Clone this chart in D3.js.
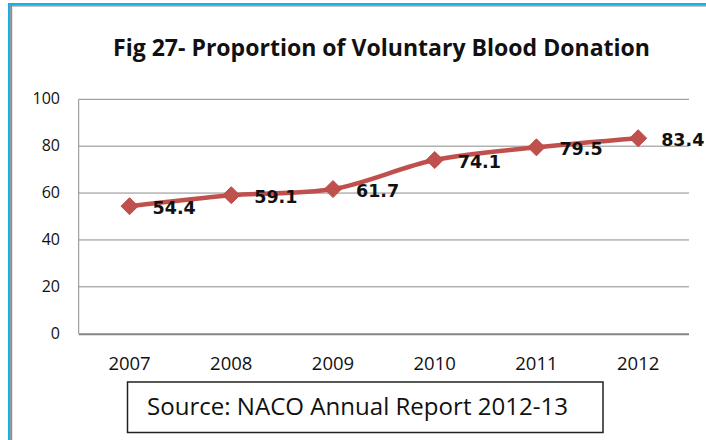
<!DOCTYPE html>
<html>
<head>
<meta charset="utf-8">
<script src="https://cdn.jsdelivr.net/npm/d3@7"></script>
<style>
  html, body { margin: 0; padding: 0; background: #fff; }
  svg { display: block; }
</style>
</head>
<body>
<svg id="chart" width="706" height="440"></svg>
<script>
const categories = ["2007", "2008", "2009", "2010", "2011", "2012"];
const values = [54.4, 59.1, 61.7, 74.1, 79.5, 83.4];
const yTicks = [0, 20, 40, 60, 80, 100];
const titleText = "Fig 27- Proportion of Voluntary Blood Donation";
const sourceText = "Source: NACO Annual Report 2012-13";

const svg = d3.select("#chart");
const W = 706, H = 440;
const plot = { left: 78.7, right: 689, top: 99.3, bottom: 333.7 };

svg.append("rect").attr("width", W).attr("height", H).attr("fill", "#fff");

// frame (blue selection border + gray inner edge)
svg.append("rect").attr("x", 8).attr("y", 3).attr("width", W).attr("height", 2.2).attr("fill", "#1aaee8");
svg.append("rect").attr("x", 8).attr("y", 3).attr("width", 2.2).attr("height", H).attr("fill", "#1aaee8");
svg.append("rect").attr("x", 10.2).attr("y", 5.2).attr("width", W).attr("height", 1.3).attr("fill", "#8a8a8a");
svg.append("rect").attr("x", 10.2).attr("y", 5.2).attr("width", 2).attr("height", H).attr("fill", "#8a8a8a");

// title
svg.append("text")
  .attr("x", 113).attr("y", 56)
  .attr("font-family", "'Open Sans', sans-serif")
  .attr("font-weight", "bold")
  .attr("font-size", 24)
  .attr("fill", "#111")
  .attr("textLength", 537)
  .attr("lengthAdjust", "spacingAndGlyphs")
  .text(titleText);

const x = d3.scalePoint().domain(categories).range([plot.left, plot.right]).padding(0.5);
const y = d3.scaleLinear().domain([0, 100]).range([plot.bottom, plot.top]);

// gridlines
svg.append("g").selectAll("line").data(yTicks.filter(d => d > 0)).join("line")
  .attr("x1", plot.left).attr("x2", plot.right)
  .attr("y1", d => y(d)).attr("y2", d => y(d))
  .attr("stroke", "#8c8c8c").attr("stroke-width", 1);

// y axis line
svg.append("line")
  .attr("x1", plot.left).attr("x2", plot.left)
  .attr("y1", y(100)).attr("y2", y(0))
  .attr("stroke", "#8c8c8c").attr("stroke-width", 1);
// x axis line
svg.append("line")
  .attr("x1", plot.left).attr("x2", plot.right)
  .attr("y1", y(0) + 0.5).attr("y2", y(0) + 0.5)
  .attr("stroke", "#858585").attr("stroke-width", 2);

// y tick labels
svg.append("g").selectAll("text").data(yTicks).join("text")
  .attr("x", 60).attr("y", d => y(d) - 1)
  .attr("text-anchor", "end")
  .attr("dominant-baseline", "central")
  .attr("font-family", "'Open Sans', sans-serif")
  .attr("font-size", 16)
  .attr("fill", "#111")
  .text(d => d);

// x tick labels
svg.append("g").selectAll("text").data(categories).join("text")
  .attr("x", d => x(d)).attr("y", 369.5)
  .attr("text-anchor", "middle")
  .attr("font-family", "'Open Sans', sans-serif")
  .attr("font-size", 18.5)
  .attr("fill", "#111")
  .text(d => d);

// line
const data = categories.map((c, i) => ({ c, v: values[i] }));
const line = d3.line().x(d => x(d.c)).y(d => y(d.v)).curve(d3.curveCatmullRom.alpha(0.5));
svg.append("path").datum(data)
  .attr("d", line)
  .attr("fill", "none")
  .attr("stroke", "#c0504d")
  .attr("stroke-width", 4.5)
  .attr("stroke-linejoin", "round")
  .attr("stroke-linecap", "round");

// markers
const r = 8.5;
svg.append("g").selectAll("path").data(data).join("path")
  .attr("transform", d => `translate(${x(d.c)},${y(d.v)})`)
  .attr("d", `M0,${-r}L${r},0L0,${r}L${-r},0Z`)
  .attr("fill", "#c0504d")
  .attr("stroke", "#b84a47")
  .attr("stroke-width", 1);

// data labels
svg.append("g").selectAll("text").data(data).join("text")
  .attr("x", d => x(d.c) + 23).attr("y", d => y(d.v) + 1.5)
  .attr("dominant-baseline", "central")
  .attr("font-family", "'DejaVu Sans', sans-serif")
  .attr("font-weight", "bold")
  .attr("font-size", 17.5)
  .attr("fill", "#111")
  .text(d => d.v.toFixed(1));

// source box
svg.append("rect")
  .attr("x", 127.5).attr("y", 382).attr("width", 475.5).attr("height", 50.5)
  .attr("fill", "#fff").attr("stroke", "#222").attr("stroke-width", 1.5);
svg.append("text")
  .attr("x", 147).attr("y", 415)
  .attr("font-family", "'Open Sans', sans-serif")
  .attr("font-size", 23)
  .attr("fill", "#111")
  .attr("textLength", 421)
  .attr("lengthAdjust", "spacingAndGlyphs")
  .text(sourceText);
</script>
</body>
</html>
